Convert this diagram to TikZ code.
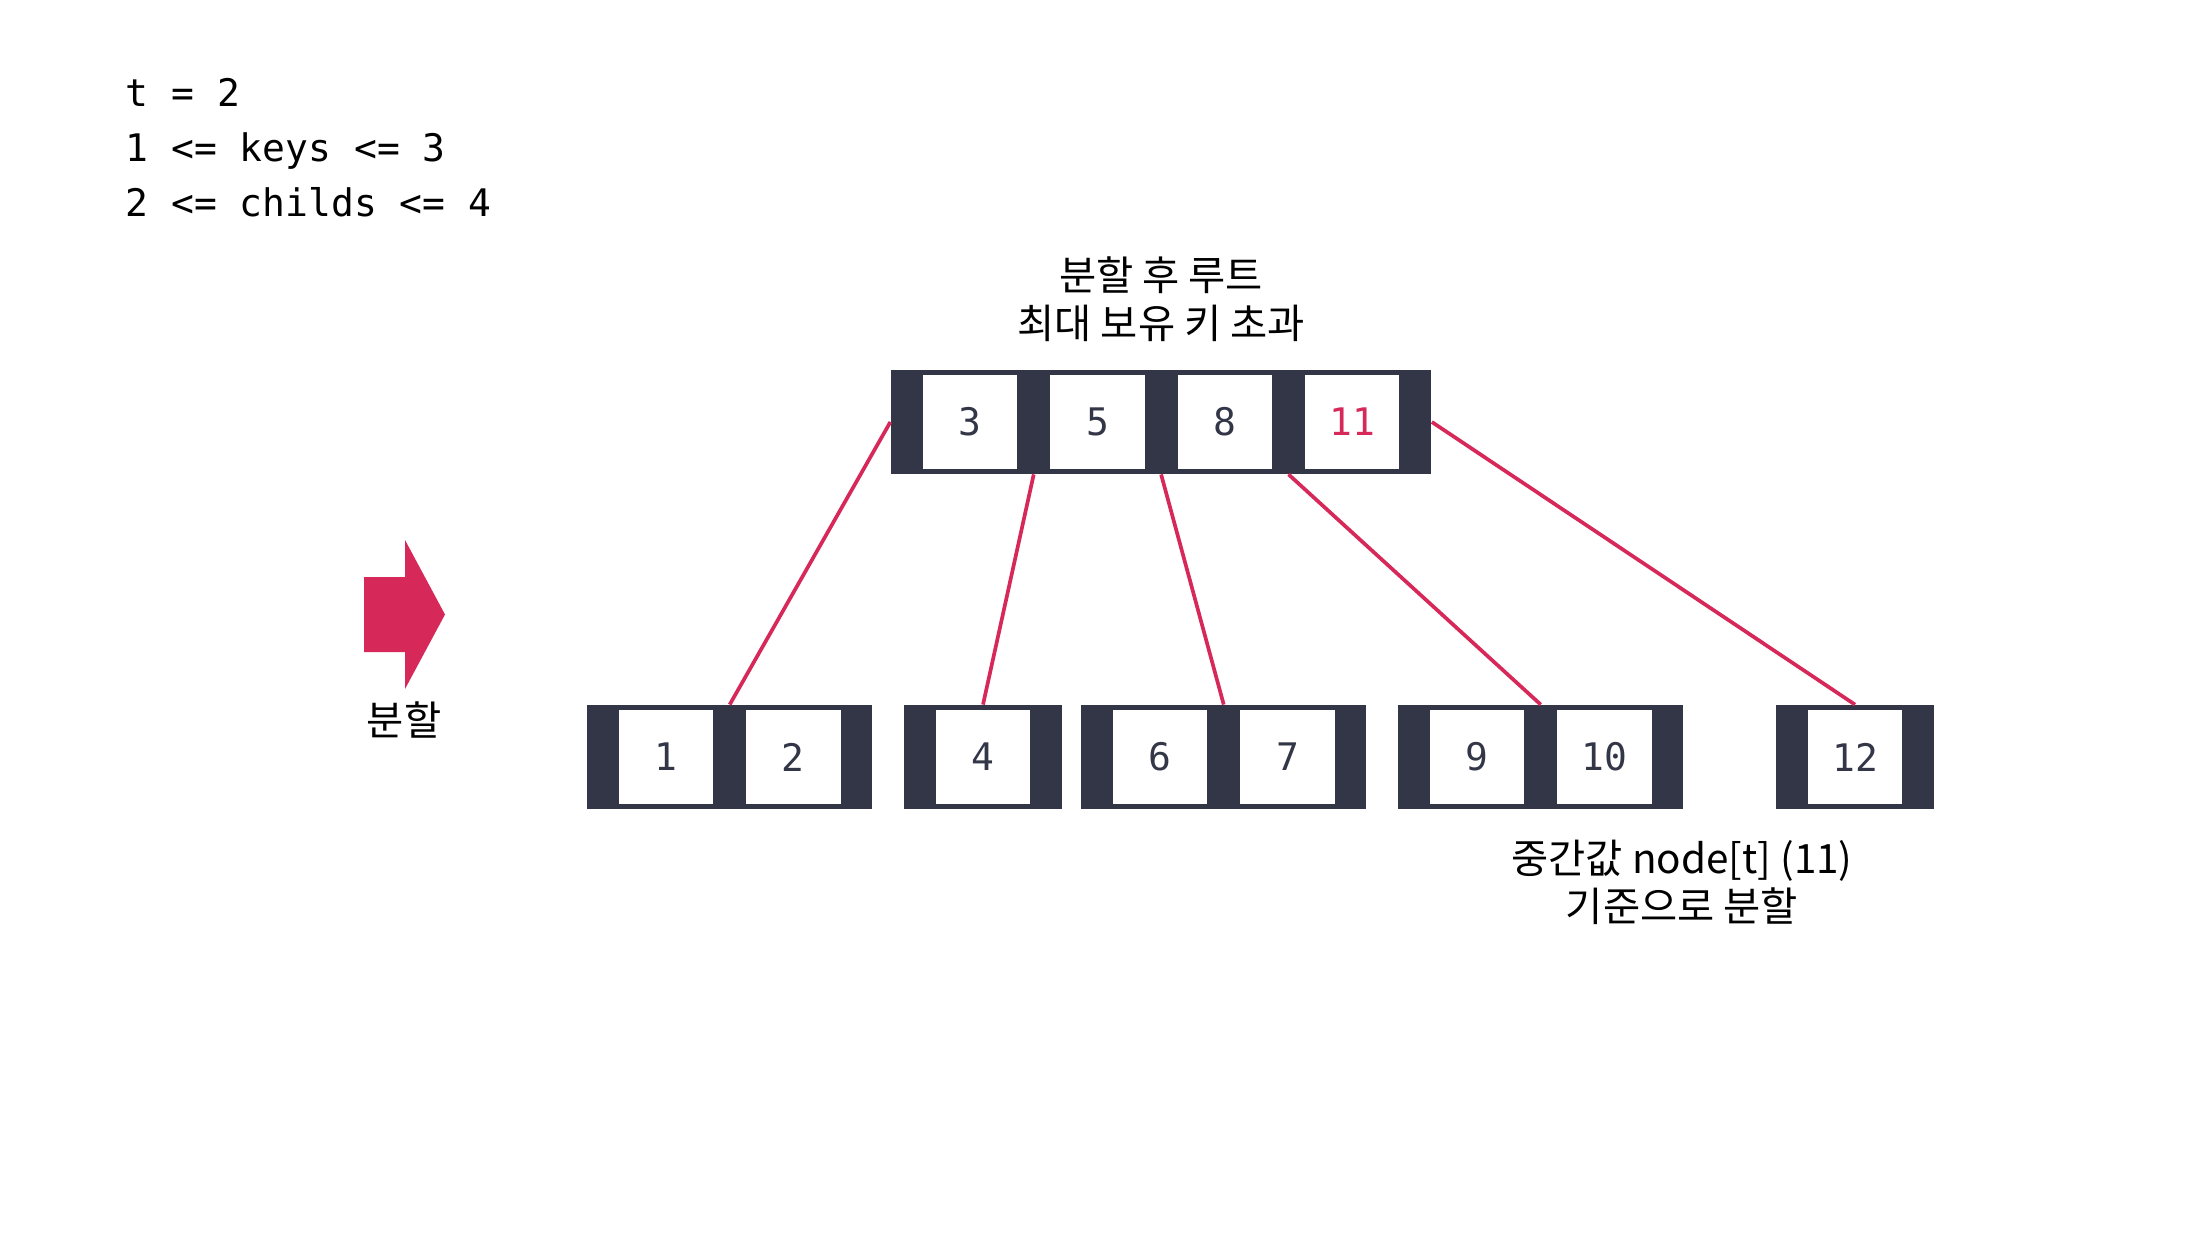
\documentclass[tikz,border=0pt]{standalone}
\usepackage{fontspec}
\newfontfamily\krfont{Noto Sans CJK KR}
\newfontfamily\codefont{DejaVu Sans Mono}
\usetikzlibrary{positioning,fit,backgrounds,calc}

\begin{document}
\begin{tikzpicture}[x=0.1mm,y=-0.1mm,node distance=3.15mm]
  % Colors
  \definecolor{boxcolor}{RGB}{51,54,71}
  \definecolor{splitcolor}{RGB}{215,40,90}

  % Styles
  \tikzstyle{key}=[fill=white,text=boxcolor,inner sep=0pt,minimum width=9.45mm,minimum height=9.4mm,font=\codefont\fontsize{10.8}{13}\selectfont]
  \tikzstyle{btree}=[fill=boxcolor,inner xsep=3.1mm,inner ysep=0.4mm]
  \tikzstyle{child line}=[splitcolor,line width=1.05pt]
  \tikzstyle{note}=[inner sep=0pt,align=center,font=\krfont\fontsize{11.5}{13.7}\selectfont]

  \useasboundingbox (0,0) rectangle (2196,1232);
  \begin{scope}[on background layer]
    \fill[white] (0,0) rectangle (2196,1232);
  \end{scope}

  % Rules
  \node[anchor=north west,inner sep=0pt,align=left,font=\codefont\fontsize{10.8}{15.6}\selectfont] (rules) at (125,78)
    {t = 2\\1 <= keys <= 3\\2 <= childs <= 4};

  % Root after split
  \node[key] (r1) at (970,422) {3};
  \node[key,right=of r1] (r2) {5};
  \node[key,right=of r2] (r3) {8};
  \node[key,right=of r3,text=splitcolor] (r4) {11};

  % Children
  \node[key] (a1) at (666,757) {1};
  \node[key,right=of a1] (a2) {2};
  \node[key] (b1) at (983,757) {4};
  \node[key] (c1) at (1160,757) {6};
  \node[key,right=of c1] (c2) {7};
  \node[key] (d1) at (1477,757) {9};
  \node[key,right=of d1] (d2) {10};
  \node[key] (e1) at (1855,757) {12};

  \begin{scope}[on background layer]
    \node[btree,fit=(r1)(r4)] (root) {};
    \node[btree,fit=(a1)(a2)] (a) {};
    \node[btree,fit=(b1)] (b) {};
    \node[btree,fit=(c1)(c2)] (c) {};
    \node[btree,fit=(d1)(d2)] (d) {};
    \node[btree,fit=(e1)] (e) {};
  \end{scope}

  % Links
  \coordinate (s1) at ($(r1)!.5!(r2)$);
  \coordinate (s3) at ($(r3)!.5!(r4)$);
  \draw[child line] (root.west) -- (a.north);
  \draw[child line] (s1 |- root.south) -- (b.north);
  \draw[child line] (root.south) -- (c.north);
  \draw[child line] (s3 |- root.south) -- (d.north);
  \draw[child line] (root.east) -- (e.north);

  % Notes
  \node[note,above=2.7mm of root] (rootnote) {분할 후 루트\\최대 보유 키 초과};
  \node[note,anchor=north] (splitnote) at (1682,839) {중간값 node[t] (11)\\기준으로 분할};

  % Split arrow
  \fill[splitcolor] (364,577) -- (405,577) -- (405,540) -- (445,614.5) -- (405,689) -- (405,652) -- (364,652) -- cycle;
  \node[note] (arrownote) at (404,720) {분할};
\end{tikzpicture}
\end{document}
